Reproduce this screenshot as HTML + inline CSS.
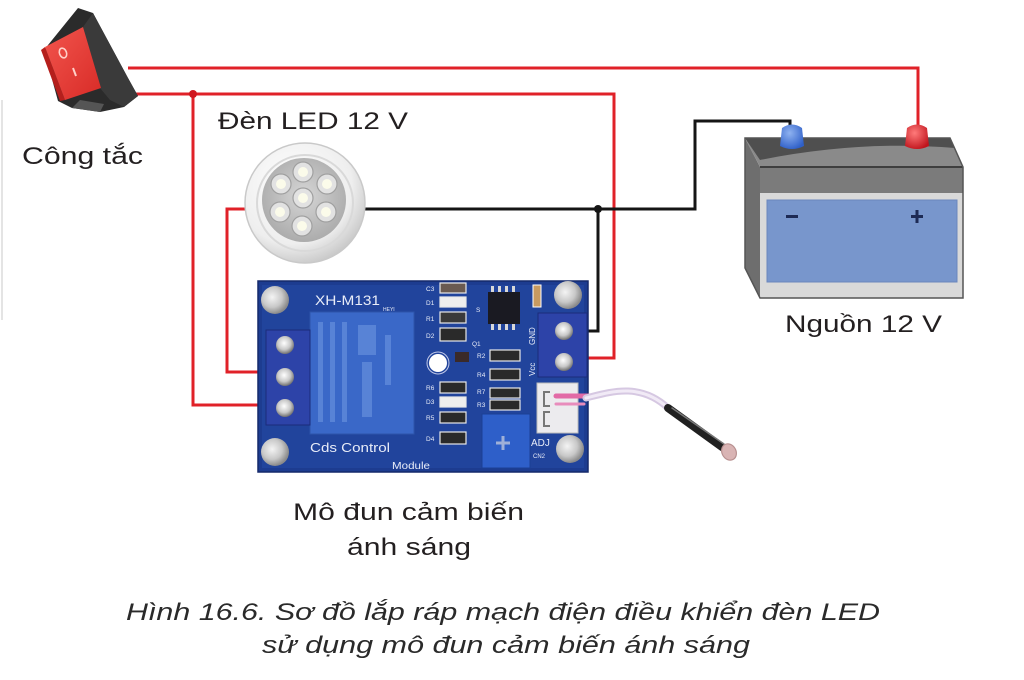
<!DOCTYPE html>
<html>
<head>
<meta charset="utf-8">
<style>
html,body{margin:0;padding:0;background:#fff;}
svg{display:block;}
text{font-family:"Liberation Sans",Arial,sans-serif;}
</style>
</head>
<body>
<svg width="1024" height="680" viewBox="0 0 1024 680" xmlns="http://www.w3.org/2000/svg">
<defs>
  <radialGradient id="ledOuter" cx="0.4" cy="0.35" r="0.7">
    <stop offset="0" stop-color="#ffffff"/>
    <stop offset="0.7" stop-color="#eeeeee"/>
    <stop offset="1" stop-color="#c4c4c4"/>
  </radialGradient>
  <radialGradient id="ledInner" cx="0.5" cy="0.45" r="0.6">
    <stop offset="0" stop-color="#d6d6d6"/>
    <stop offset="1" stop-color="#a8a8a8"/>
  </radialGradient>
  <radialGradient id="hole" cx="0.4" cy="0.4" r="0.6">
    <stop offset="0" stop-color="#f4f4f4"/>
    <stop offset="0.6" stop-color="#c8c8c8"/>
    <stop offset="1" stop-color="#8a8a8a"/>
  </radialGradient>
  <radialGradient id="screw" cx="0.45" cy="0.4" r="0.6">
    <stop offset="0" stop-color="#ffffff"/>
    <stop offset="0.6" stop-color="#c8c8c8"/>
    <stop offset="1" stop-color="#707070"/>
  </radialGradient>
  <linearGradient id="redFace" x1="0" y1="0" x2="1" y2="1">
    <stop offset="0" stop-color="#f2554d"/>
    <stop offset="1" stop-color="#d82b27"/>
  </linearGradient>
  <radialGradient id="blueCap" cx="0.4" cy="0.35" r="0.7">
    <stop offset="0" stop-color="#8fb2f0"/>
    <stop offset="1" stop-color="#2e5fc8"/>
  </radialGradient>
  <radialGradient id="redCap" cx="0.4" cy="0.35" r="0.7">
    <stop offset="0" stop-color="#ff7a7a"/>
    <stop offset="1" stop-color="#c0141c"/>
  </radialGradient>
</defs>

<rect width="1024" height="680" fill="#ffffff"/>
<line x1="2" y1="100" x2="2" y2="320" stroke="#e4e4e4" stroke-width="2"/>

<!-- Wires -->
<g fill="none" stroke-width="3" stroke-linejoin="miter">
  <path d="M128 68 H918 V128" stroke="#e02128"/>
  <path d="M136 94 H614 V358 H586" stroke="#e02128"/>
  <path d="M193 94 V405 H262" stroke="#e02128"/>
  <path d="M246 209 H227 V372 H262" stroke="#e02128"/>
  <path d="M362 209 H695 V121 H790 V128" stroke="#151515"/>
  <path d="M598 209 V331 H586" stroke="#151515"/>
</g>
<circle cx="193" cy="94" r="4" fill="#d01820"/>
<circle cx="598" cy="209" r="4" fill="#151515"/>

<!-- Switch -->
<g>
  <polygon points="78,8 93,13 128,78 138,96 124,107 100,112 72,108 58,101 44,50" fill="#2b2b2b"/>
  <polygon points="93,13 128,78 138,96 124,107 110,100 100,88 83,27" fill="#3a3a3a"/>
  <polygon points="72,108 100,112 104,104 80,100" fill="#555"/>
  <polygon points="41,50 45,47 65,100 60,101" fill="#b51f1c"/>
  <polygon points="45,47 83,27 101,88 65,100" fill="url(#redFace)"/>
  <ellipse cx="63" cy="53" rx="3.5" ry="5" transform="rotate(-20 63 53)" fill="none" stroke="#ffd0c8" stroke-width="1.6"/>
  <line x1="73" y1="68" x2="76" y2="76" stroke="#ffd0c8" stroke-width="2"/>
</g>

<!-- LED lamp -->
<g>
  <circle cx="305" cy="203" r="60" fill="url(#ledOuter)" stroke="#c9c9c9" stroke-width="1.5"/>
  <circle cx="305" cy="203" r="48" fill="none" stroke="#d9d9d9" stroke-width="2"/>
  <circle cx="304" cy="200" r="42" fill="url(#ledInner)"/>
  <g stroke="#a0a0a0" stroke-width="1.2">
    <circle cx="303" cy="198" r="10" fill="#e2e2e2"/>
    <circle cx="303" cy="172" r="10" fill="#e2e2e2"/>
    <circle cx="281" cy="184" r="10" fill="#e2e2e2"/>
    <circle cx="327" cy="184" r="10" fill="#e2e2e2"/>
    <circle cx="280" cy="212" r="10" fill="#e2e2e2"/>
    <circle cx="326" cy="212" r="10" fill="#e2e2e2"/>
    <circle cx="302" cy="226" r="10" fill="#e2e2e2"/>
  </g>
  <g fill="#fbfbea">
    <circle cx="303" cy="198" r="5"/>
    <circle cx="303" cy="172" r="5"/>
    <circle cx="281" cy="184" r="5"/>
    <circle cx="327" cy="184" r="5"/>
    <circle cx="280" cy="212" r="5"/>
    <circle cx="326" cy="212" r="5"/>
    <circle cx="302" cy="226" r="5"/>
  </g>
</g>

<!-- Battery -->
<g>
  <polygon points="745,138 760,167 760,298 745,268" fill="#6e6e6e"/>
  <polygon points="745,138 950,138 963,167 760,167" fill="#8a8a8a"/>
  <path d="M745 138 H950 L955 148 Q860 140 760 160 Z" fill="#4f4f4f"/>
  <rect x="760" y="167" width="203" height="26" fill="#7b7b7b"/>
  <line x1="760" y1="167" x2="963" y2="167" stroke="#3e3e3e" stroke-width="2"/>
  <rect x="760" y="193" width="203" height="105" fill="#d9d9d9"/>
  <rect x="745" y="138" width="0" height="0"/>
  <polygon points="745,138 950,138 963,167 963,298 760,298 745,268" fill="none" stroke="#555" stroke-width="1.5"/>
  <rect x="767" y="200" width="190" height="82" fill="#7896cc" stroke="#6a86bd" stroke-width="1"/>
  <rect x="786" y="215" width="12" height="3" fill="#1d2a55"/>
  <rect x="911" y="215" width="12" height="3" fill="#1d2a55"/>
  <rect x="915.5" y="210" width="3" height="13" fill="#1d2a55"/>
  <!-- terminals -->
  <path d="M782 128 Q792 121 802 128 L804 146 Q792 152 780 146 Z" fill="url(#blueCap)"/>
  <path d="M907 128 Q917 121 927 128 L929 146 Q917 152 905 146 Z" fill="url(#redCap)"/>
</g>

<!-- Module board -->
<g>
  <rect x="258" y="281" width="330" height="191" fill="#1d3c90" stroke="#15296a" stroke-width="1.5"/>
  <rect x="262" y="285" width="322" height="183" fill="#21449c"/>
  <!-- holes -->
  <circle cx="275" cy="300" r="14" fill="url(#hole)"/>
  <circle cx="275" cy="452" r="14" fill="url(#hole)"/>
  <circle cx="568" cy="295" r="14" fill="url(#hole)"/>
  <circle cx="570" cy="449" r="14" fill="url(#hole)"/>
  <!-- relay -->
  <rect x="310" y="312" width="104" height="122" fill="#3a68c8" stroke="#2d55aa" stroke-width="1"/>
  <g fill="#5c86d8" opacity="0.9">
    <rect x="318" y="322" width="5" height="100"/>
    <rect x="330" y="322" width="5" height="100"/>
    <rect x="342" y="322" width="5" height="100"/>
    <rect x="358" y="325" width="18" height="30"/>
    <rect x="362" y="362" width="10" height="55"/>
    <rect x="385" y="335" width="6" height="50"/>
  </g>
  <!-- left terminal block -->
  <rect x="266" y="330" width="44" height="95" fill="#2d43a8" stroke="#1a2b7a" stroke-width="1"/>
  <circle cx="285" cy="345" r="9" fill="url(#screw)"/>
  <circle cx="285" cy="377" r="9" fill="url(#screw)"/>
  <circle cx="285" cy="408" r="9" fill="url(#screw)"/>
  <!-- right terminal block -->
  <rect x="538" y="313" width="49" height="64" fill="#2d43a8" stroke="#1a2b7a" stroke-width="1"/>
  <circle cx="564" cy="331" r="9" fill="url(#screw)"/>
  <circle cx="564" cy="362" r="9" fill="url(#screw)"/>
  <!-- white connector -->
  <rect x="537" y="383" width="41" height="50" fill="#ecebee" stroke="#bbb" stroke-width="1"/>
  <path d="M550 392 h-6 v14 h6 M550 412 h-6 v14 h6" fill="none" stroke="#777" stroke-width="2"/>
  <!-- pot -->
  <rect x="482" y="414" width="48" height="54" fill="#2e5fc9" stroke="#1c3f95" stroke-width="1"/>
  <path d="M503 436 v14 M496 443 h14" stroke="#9fb0d8" stroke-width="3"/>
  <!-- chip -->
  <rect x="488" y="292" width="32" height="32" fill="#1a1a22"/>
  <g fill="#d8d8d8">
    <rect x="491" y="286" width="3" height="6"/><rect x="498" y="286" width="3" height="6"/><rect x="505" y="286" width="3" height="6"/><rect x="512" y="286" width="3" height="6"/>
    <rect x="491" y="324" width="3" height="6"/><rect x="498" y="324" width="3" height="6"/><rect x="505" y="324" width="3" height="6"/><rect x="512" y="324" width="3" height="6"/>
  </g>
  <rect x="533" y="285" width="8" height="22" fill="#c89a60" stroke="#fff" stroke-width="1"/>
  <!-- SMD col1 -->
  <g stroke="#e8e8e8" stroke-width="1.2">
    <rect x="440" y="283" width="26" height="10" fill="#6a5a50"/>
    <rect x="440" y="297" width="26" height="10" fill="#eeeeee"/>
    <rect x="440" y="312" width="26" height="11" fill="#3a3a3a"/>
    <rect x="440" y="328" width="26" height="13" fill="#2a2a2a"/>
    <rect x="440" y="382" width="26" height="11" fill="#2a2a2a"/>
    <rect x="440" y="397" width="26" height="10" fill="#eeeeee"/>
    <rect x="440" y="412" width="26" height="11" fill="#2a2a2a"/>
    <rect x="440" y="432" width="26" height="12" fill="#2a2a2a"/>
    <rect x="490" y="350" width="30" height="11" fill="#2a2a2a"/>
    <rect x="490" y="369" width="30" height="11" fill="#2a2a2a"/>
    <rect x="490" y="388" width="30" height="10" fill="#2a2a2a"/>
    <rect x="490" y="400" width="30" height="10" fill="#2a2a2a"/>
  </g>
  <rect x="455" y="352" width="14" height="10" fill="#3a2a2a"/>
  <circle cx="438" cy="363" r="9" fill="#ffffff"/>
  <circle cx="438" cy="363" r="11" fill="none" stroke="#c0c8e8" stroke-width="1"/>
  <!-- labels -->
  <g fill="#e8ecf8" font-size="6.5">
    <text x="426" y="291">C3</text>
    <text x="426" y="305">D1</text>
    <text x="426" y="321">R1</text>
    <text x="426" y="338">D2</text>
    <text x="472" y="346">Q1</text>
    <text x="477" y="358">R2</text>
    <text x="477" y="377">R4</text>
    <text x="477" y="394">R7</text>
    <text x="477" y="407">R3</text>
    <text x="426" y="390">R6</text>
    <text x="426" y="404">D3</text>
    <text x="426" y="420">R5</text>
    <text x="426" y="441">D4</text>
    <text x="476" y="312">S</text>
  </g>
  <text x="315" y="305" font-size="14" fill="#e8ecf8" textLength="65" lengthAdjust="spacingAndGlyphs">XH-M131</text>
  <text x="383" y="311" font-size="5" fill="#e8ecf8">HEYI</text>
  <text x="310" y="452" font-size="13" fill="#e8ecf8" textLength="80" lengthAdjust="spacingAndGlyphs">Cds  Control</text>
  <text x="392" y="469" font-size="10" fill="#e8ecf8" textLength="38" lengthAdjust="spacingAndGlyphs">Module</text>
  <text x="531" y="446" font-size="10" fill="#e8ecf8">ADJ</text>
  <text x="533" y="458" font-size="6" fill="#e8ecf8">CN2</text>
  <text x="0" y="0" font-size="8" fill="#e8ecf8" transform="translate(535 345) rotate(-90)">GND</text>
  <text x="0" y="0" font-size="8" fill="#e8ecf8" transform="translate(535 376) rotate(-90)">Vcc</text>
</g>

<!-- Sensor -->
<g fill="none" stroke-linecap="round">
  <path d="M556 396 H590" stroke="#e26aa6" stroke-width="5"/>
  <path d="M556 404 H584" stroke="#e88cbc" stroke-width="3"/>
  <path d="M586 398 C610 392 640 382 668 408" stroke="#d6c8e2" stroke-width="7"/>
  <path d="M586 398 C610 392 640 382 668 408" stroke="#f1eaf6" stroke-width="3"/>
  <path d="M668 408 L722 447" stroke="#202020" stroke-width="8"/>
  <path d="M672 408 L724 444" stroke="#777" stroke-width="1.5"/>
</g>
<ellipse cx="729" cy="452" rx="7" ry="8.5" transform="rotate(-30 729 452)" fill="#d9b4b4" stroke="#b89090" stroke-width="1.2"/>

<!-- Labels -->
<g fill="#231f20" font-size="24">
  <text x="22" y="164" textLength="121" lengthAdjust="spacingAndGlyphs">Công tắc</text>
  <text x="218" y="129" textLength="190" lengthAdjust="spacingAndGlyphs">Đèn LED 12 V</text>
  <text x="785" y="332" textLength="157" lengthAdjust="spacingAndGlyphs">Nguồn 12 V</text>
  <text x="293" y="520" textLength="231" lengthAdjust="spacingAndGlyphs">Mô đun cảm biến</text>
  <text x="347" y="555" textLength="124" lengthAdjust="spacingAndGlyphs">ánh sáng</text>
</g>
<g fill="#2a2a2a" font-size="24" font-style="italic">
  <text x="126" y="620" textLength="754" lengthAdjust="spacingAndGlyphs">Hình 16.6. Sơ đồ lắp ráp mạch điện điều khiển đèn LED</text>
  <text x="262" y="653" textLength="488" lengthAdjust="spacingAndGlyphs">sử dụng mô đun cảm biến ánh sáng</text>
</g>
</svg>
</body>
</html>
